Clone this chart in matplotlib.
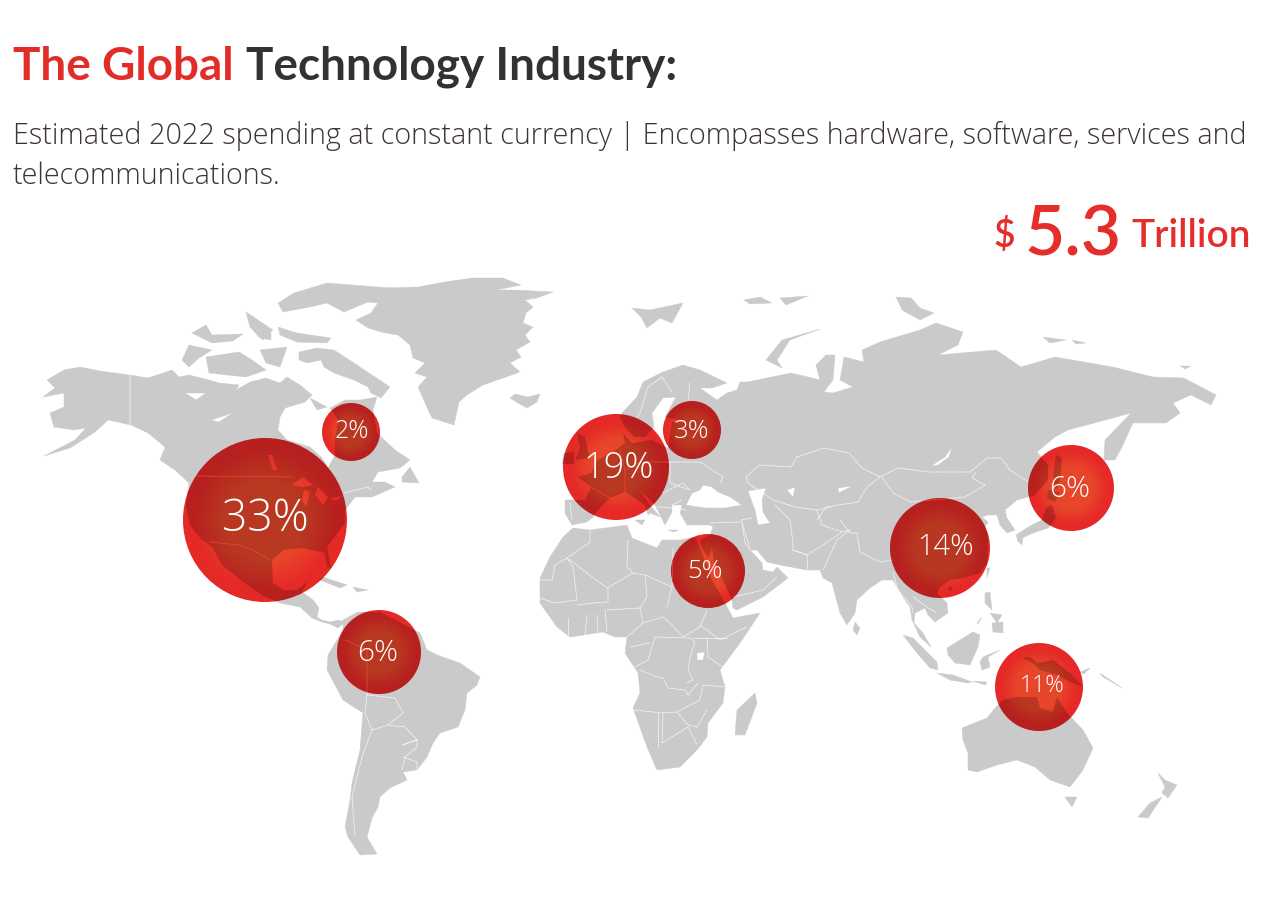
import numpy as np
import matplotlib
matplotlib.use('Agg')
import matplotlib.pyplot as plt
from matplotlib.path import Path
from matplotlib.patches import PathPatch, Circle
from matplotlib.colors import LinearSegmentedColormap

# bubbles: regional share of spending
labels = ['33%', '2%', '19%', '3%', '6%', '14%', '5%', '6%', '11%']
bubble_x = [265, 351, 616, 692, 1071, 940, 708, 379, 1039]
bubble_y = [520, 432, 467, 430, 488, 548, 571, 652, 687]
bubble_r = [82, 29, 53, 29, 43, 50, 37, 42, 44]
label_x = [265, 352, 619, 692, 1070, 946, 705, 378, 1042]
label_y = [520, 432, 468, 431, 489, 547, 572, 653, 686]
label_size = [32, 18, 26, 18.5, 21.5, 21, 18.5, 21.5, 16.5]

# land outlines, in picture pixels
north_america = [(44,456),(70,448),(95,432),(108,420),(131,425),(148,433),(165,447),(160,460),(175,470),(189,483),
    (186,505),(190,525),(200,538),(213,548),(222,565),(238,578),(250,587),(265,597),(280,603),(300,607),(312,618),
    (322,622),(330,624),(338,628),(345,622),(338,620),(330,622),(322,620),(317,617),(319,608),(313,600),(302,592),
    (307,582),(297,590),(283,590),(273,583),(272,560),(283,550),(303,548),(325,553),(327,567),(331,568),(327,547),
    (345,523),(345,510),(355,497),(372,497),(395,487),(385,482),(372,482),(378,472),(400,468),(410,460),(395,450),
    (377,433),(373,410),(377,397),(360,400),(345,400),(330,408),(338,420),(335,440),(335,455),(328,468),(322,458),
    (310,447),(287,440),(278,430),(280,417),(285,408),(305,402),(312,395),(300,385),(287,377),(280,383),(266,378),
    (250,382),(236,390),(239,385),(219,383),(209,380),(189,375),(179,377),(172,370),(148,378),(130,375),(100,371),
    (80,367),(64,370),(47,380),(55,388),(43,397),(64,393),(64,407),(50,413),(54,427),(74,430),(86,428),(75,440)]
greenland = [(381,290),(388,288),(418,287),(445,282),(472,278),(503,278),(521,285),(496,290),(516,290),(553,292),
    (537,298),(525,300),(533,307),(526,313),(523,323),(533,327),(525,335),(530,342),(516,350),(521,357),(510,363),
    (520,372),(503,378),(483,385),(467,395),(459,402),(454,425),(432,418),(425,403),(418,387),(427,377),(415,373),
    (425,363),(413,358),(410,345),(398,335),(381,332),(368,328),(356,320),(371,313),(378,303),(368,302)]
iceland = [(515,394),(528,397),(540,394),(537,402),(527,408),(518,403),(510,398)]
baffin = [(299,352),(317,348),(334,350),(354,363),(375,377),(390,387),(381,398),(371,393),(368,387),(354,380),
    (334,373),(324,367),(321,360),(307,363),(299,360)]
ellesmere = [(294,293),(327,283),(391,288),(368,302),(344,312),(327,303),(310,307),(283,312),(278,303)]
arctic_a = [(278,327),(297,333),(331,338),(327,343),(297,342),(280,335)]
arctic_b = [(246,312),(273,330),(263,340),(250,327)]
arctic_c = [(192,333),(206,325),(212,335),(243,334),(233,341),(212,343)]
arctic_d = [(253,330),(271,333),(271,340),(260,338)]
banks = [(182,360),(189,345),(212,350),(199,358),(189,367)]
victoria = [(206,357),(239,352),(252,360),(266,370),(246,377),(209,373)]
somerset = [(260,350),(287,347),(280,367),(266,363)]
southampton = [(310,398),(327,407),(317,410)]
newfoundland = [(402,477),(410,467),(419,483),(402,482)]
cuba = [(323,577),(347,585),(340,588),(320,580)]
hispaniola = [(353,587),(368,590),(357,592)]

south_america = [(343,620),(358,612),(380,612),(420,633),(427,650),(437,655),(460,663),(480,677),(477,685),(467,693),
    (465,710),(458,727),(440,733),(433,743),(427,757),(417,770),(403,772),(407,780),(390,788),(380,797),(378,807),
    (372,818),(367,837),(377,854),(360,855),(348,837),(345,827),(350,800),(352,783),(360,750),(363,713),(343,700),
    (327,670),(328,655),(343,630)]

africa = [(573,528),(590,530),(627,525),(632,538),(657,548),(662,540),(680,540),(695,537),(700,548),(703,555),(712,580),
    (725,603),(733,618),(760,613),(740,643),(720,670),(725,687),(723,703),(708,723),(707,737),(697,750),(680,767),
    (657,770),(647,747),(633,708),(640,693),(638,673),(625,653),(627,637),(615,637),(603,632),(570,637),(557,627),
    (540,603),(540,578),(550,557),(563,537)]
madagascar = [(755,693),(757,703),(745,735),(735,735),(737,710)]

eurasia = [(637,397),(643,382),(663,372),(683,365),(700,370),(727,383),(712,388),(700,388),(717,400),(727,393),
    (737,390),(740,382),(747,382),(791,373),(808,377),(820,380),(816,365),(826,355),(835,355),(833,380),(824,392),
    (833,393),(853,387),(840,380),(844,357),(864,362),(862,350),(880,342),(920,330),(936,323),(963,332),(958,345),
    (938,355),(996,350),(1021,367),(1055,357),(1113,367),(1153,377),(1184,378),(1216,395),(1211,405),(1191,395),
    (1173,403),(1180,413),(1166,423),(1133,423),(1122,447),(1115,460),(1104,460),(1105,440),(1131,413),(1113,418),
    (1068,430),(1055,437),(1037,452),(1048,465),(1048,480),(1035,495),(1028,497),(1017,500),(1005,510),(1007,518),
    (1015,530),(1007,533),(1000,525),(997,515),(988,515),(982,517),(988,522),(985,527),(988,535),(988,550),(987,563),
    (980,573),(963,578),(950,580),(940,587),(937,593),(947,603),(948,613),(935,622),(928,615),(925,608),(915,613),
    (914,623),(923,633),(931,647),(920,637),(912,620),(910,607),(903,597),(893,580),(882,580),(870,588),(857,600),
    (855,613),(847,625),(840,613),(832,583),(823,578),(820,570),(807,570),(780,565),(767,562),(757,550),(750,550),
    (762,563),(763,570),(773,572),(777,567),(788,578),(763,597),(737,610),(733,608),(732,600),(725,585),(714,560),
    (712,548),(708,558),(702,548),(700,540),(710,535),(713,527),(710,525),(687,525),(680,513),(682,505),(672,505),
    (672,512),(665,525),(660,515),(655,505),(640,490),(650,505),(660,517),(650,513),(648,515),(645,505),(630,495),
    (625,492),(610,498),(598,510),(593,517),(587,522),(572,525),(565,513),(565,500),(585,500),(591,487),(578,477),
    (591,473),(598,460),(616,450),(625,443),(623,433),(632,443),(652,440),(668,448),(670,437),(672,422),(688,422),
    (665,417),(676,397),(663,398),(652,413),(654,427),(645,437),(634,437),(625,427),(620,417),(622,413)]
britain = [(577,433),(585,437),(588,452),(590,458),(575,460),(580,448)]
ireland = [(564,453),(574,452),(574,464),(562,464)]
sicily = [(635,520),(645,520),(642,525)]
crete = [(668,530),(678,530),(674,532)]
svalbard = [(632,308),(650,310),(683,303),(672,323),(660,318),(647,328),(641,317)]
franz_josef = [(744,300),(760,297),(772,303),(750,304)]
franz_josef_b = [(780,298),(808,296),(786,305)]
novaya_zemlya = [(766,360),(782,340),(820,329),(790,340),(777,360),(782,368)]
severnaya = [(896,297),(911,298),(920,308),(934,313),(920,320),(902,310)]
new_siberian = [(1043,337),(1066,340),(1050,343)]
new_siberian_b = [(1072,340),(1086,343),(1076,344)]
wrangel = [(1180,366),(1191,366),(1185,369)]
sri_lanka = [(855,622),(860,628),(857,635),(853,630)]
sakhalin = [(1056,455),(1062,458),(1060,480),(1056,490),(1053,478)]
hokkaido = [(1048,490),(1060,492),(1055,502),(1047,498)]
honshu = [(1052,505),(1056,518),(1048,528),(1033,533),(1018,540),(1016,535),(1030,526),(1042,520),(1046,508)]
kyushu = [(1017,540),(1023,538),(1022,545)]
taiwan = [(987,568),(990,568),(987,578)]
hainan = [(948,587),(953,587),(950,592)]
sumatra = [(903,635),(913,638),(937,662),(938,670),(930,668),(917,653)]
java = [(937,673),(953,675),(972,682),(968,683),(950,680)]
sundas = [(972,681),(987,682),(985,685)]
borneo = [(947,648),(973,632),(980,635),(978,647),(970,665),(955,663),(948,655)]
sulawesi = [(983,657),(1000,650),(988,657),(990,667),(982,670),(980,662)]
luzon = [(985,593),(990,592),(992,610),(985,603)]
mindanao = [(992,623),(1003,622),(1003,633),(993,632)]
visayas = [(990,613),(1002,615),(997,623)]
palawan = [(977,623),(982,617),(978,624)]
new_guinea = [(1022,658),(1030,657),(1037,663),(1053,660),(1070,673),(1083,687),(1070,682),(1057,675),(1040,670),(1033,663)]
solomon = [(1080,672),(1090,668),(1084,674)]
vanuatu = [(1100,673),(1122,688),(1103,677)]
australia = [(962,728),(987,718),(995,708),(1003,700),(1017,697),(1037,697),(1040,708),(1053,712),(1057,697),(1067,713),
    (1083,730),(1093,748),(1083,770),(1070,787),(1050,780),(1035,767),(1017,760),(997,765),(977,772),(968,770),
    (968,753),(963,740)]
tasmania = [(1065,797),(1077,797),(1072,807)]
nz_north = [(1158,773),(1165,780),(1177,785),(1168,798),(1162,793),(1165,787)]
nz_south = [(1162,797),(1148,818),(1138,817),(1150,803)]

land = [north_america, greenland, iceland, baffin, ellesmere, arctic_a, arctic_b, arctic_c, arctic_d, banks, victoria,
    somerset, southampton, newfoundland, cuba, hispaniola, south_america, africa, madagascar, eurasia, britain, ireland,
    sicily, crete, svalbard, franz_josef, franz_josef_b, novaya_zemlya, severnaya, new_siberian, new_siberian_b, wrangel,
    sri_lanka, sakhalin, hokkaido, honshu, kyushu, taiwan, hainan, sumatra, java, sundas, borneo, sulawesi, luzon,
    mindanao, visayas, palawan, new_guinea, solomon, vanuatu, australia, tasmania, nz_north, nz_south]

# inland water
lakes = [[(686,505),(692,493),(700,490),(703,485),(712,487),(718,492),(730,497),(742,505),(725,508),(705,508)],
    [(748,491),(766,488),(762,500),(763,512),(770,523),(758,525),(755,510)],
    [(787,490),(795,487),(793,497)],
    [(838,488),(853,486),(842,491),(839,493)],
    [(931,466),(945,457),(952,447),(949,457),(938,465)],
    [(697,653),(705,652),(703,660),(697,660)],
    [(185,393),(206,393),(196,400)],
    [(211,420),(233,413),(219,422)],
    [(268,455),(272,455),(277,470),(273,470)],
    [(292,485),(303,477),(313,485),(303,487)],
    [(304,490),(310,492),(306,507),(302,500)],
    [(318,487),(328,497),(323,505),(315,495)],
    [(330,498),(343,496),(335,501)]]

# country borders
borders = [[(567,558),(607,588),(633,573),(645,575),(672,587)],
    [(628,540),(627,567),(633,573)],
    [(645,575),(647,597),(640,608),(643,623)],
    [(673,548),(672,587),(667,607)],
    [(608,588),(608,602),(593,603),(577,605)],
    [(540,580),(552,580),(555,565),(567,558)],
    [(567,558),(573,567),(577,600),(555,603),(540,598)],
    [(590,530),(590,542),(567,558)],
    [(568,618),(568,635)],[(587,615),(585,635)],[(597,615),(598,633)],[(605,610),(607,632)],
    [(607,610),(640,608)],
    [(643,623),(663,617),(670,623),(683,637),(700,627),(707,610)],
    [(640,670),(657,677),(663,678),(668,688),(685,690),(688,695),(698,683)],
    [(655,637),(648,660),(635,667)],
    [(655,637),(690,638),(695,642),(690,657),(688,670),(693,680),(687,683)],
    [(633,710),(663,713),(677,712),(688,725),(697,727),(707,710)],
    [(658,713),(658,747)],
    [(663,713),(662,743),(688,727)],
    [(707,638),(708,657),(723,667)],
    [(703,685),(725,687)],
    [(700,625),(720,640),(747,627)],
    [(693,638),(727,638)],
    [(630,647),(650,643)],
    [(627,637),(643,623)],
    [(677,712),(700,700),(703,685)],
    [(688,727),(697,745)],
    [(367,695),(365,713),(372,730),(388,725),(405,727),(417,740),(402,745)],
    [(367,695),(395,698),(403,713),(388,725)],
    [(372,730),(362,757),(352,797),(355,837)],
    [(403,757),(417,762),(417,770)],
    [(402,745),(417,740),(417,747),(405,757),(402,770)],
    [(345,640),(367,650),(367,695)],
    [(130,375),(130,425),(165,450)],
    [(195,476),(293,477)],
    [(344,493),(368,487),(371,490)],
    [(210,542),(240,545),(253,550),(270,560)],
    [(746,477),(759,465),(791,467),(797,457),(824,448),(849,453),(862,468),(880,477)],
    [(880,477),(898,468),(929,472),(970,472),(987,458),(1001,458),(1010,470),(1028,482)],
    [(882,477),(893,493),(911,502),(965,497),(985,485),(972,478),(976,472)],
    [(880,477),(867,487),(858,502),(826,507),(817,520)],
    [(746,477),(748,483),(773,500),(795,507),(817,510),(831,507)],
    [(741,520),(750,548)],
    [(790,520),(793,543),(793,550),(807,555),(808,570)],
    [(793,550),(807,555),(823,545),(842,532),(850,530)],
    [(850,530),(837,540),(823,570)],
    [(742,522),(745,543),(750,550)],
    [(733,597),(763,590),(777,577)],
    [(710,523),(740,522)],
    [(840,520),(850,533),(857,533),(860,552),(880,562),(893,560)],
    [(893,572),(898,590),(912,607),(913,613)],
    [(913,597),(927,607),(937,613)],
    [(670,462),(700,462),(723,477),(720,483)],
    [(670,462),(670,483),(690,490)],
    [(690,383),(688,400)],
    [(648,387),(640,413),(637,417)],
    [(662,377),(672,392)],
    [(662,377),(648,387)],
    [(663,493),(683,483),(690,490)],
    [(650,507),(663,507),(687,510)],
    [(570,503),(572,520)],
    [(591,487),(610,498)],
    [(625,470),(640,462),(670,462)],
    [(620,450),(625,470),(625,492)],
    [(672,505),(682,500)],
    [(741,520),(752,518)],
    [(775,505),(790,520)],
    [(817,510),(822,525),(842,532)]]


def signed_area(pts):
    p = np.array(pts, dtype=float)
    return 0.5 * np.sum(p[:, 0] * np.roll(p[:, 1], -1) - np.roll(p[:, 0], -1) * p[:, 1])


def make_path(polys, holes):
    verts = []
    codes = []
    for pts, is_hole in [(q, False) for q in polys] + [(q, True) for q in holes]:
        pts = list(pts)
        if (signed_area(pts) > 0) == is_hole:
            pts = pts[::-1]
        verts += pts + [pts[0]]
        codes += [Path.MOVETO] + [Path.LINETO] * (len(pts) - 1) + [Path.CLOSEPOLY]
    return Path(verts, codes)


plt.rcParams['font.family'] = ['Open Sans', 'DejaVu Sans']
lato = ['Lato', 'DejaVu Sans']

fig = plt.figure(figsize=(12.8, 9), dpi=100)
ax = fig.add_axes([0, 0, 1, 1])
ax.axis('off')

land_path = make_path(land, lakes)
ax.add_patch(PathPatch(land_path, fc='#cacaca', ec='#cacaca', lw=0.3, zorder=1))
for b in borders:
    xs, ys = zip(*b)
    ax.plot(xs, ys, color='white', lw=0.6, alpha=0.9, ls=(0, (2, 0.6)), zorder=2)

glow = LinearSegmentedColormap.from_list('glow', [(0, '#e8462b'), (0.5, '#e8462b'), (0.85, '#e52a27'), (1, '#e52927')])
gx, gy = np.meshgrid(np.linspace(-1, 1, 300), np.linspace(-1, 1, 300))
gradient = np.clip(np.hypot(gx, gy), 0, 1)

for i in range(len(labels)):
    x, y, r = bubble_x[i], bubble_y[i], bubble_r[i]
    circle = Circle((x, y), r, transform=ax.transData, fc='none', ec='none')
    ax.add_patch(circle)
    im = ax.imshow(gradient, cmap=glow, vmin=0, vmax=1, extent=[x - r, x + r, y + r, y - r],
                   interpolation='bilinear', aspect='auto', zorder=3)
    im.set_clip_path(circle)
    shade = PathPatch(land_path, fc='black', ec='none', alpha=0.2, zorder=4)
    ax.add_patch(shade)
    shade.set_clip_path(circle)
    for b in borders:
        xs, ys = zip(*b)
        line = ax.plot(xs, ys, color='#ee4a3a', lw=0.6, alpha=0.8, zorder=4)[0]
        line.set_clip_path(circle)
    ax.text(label_x[i], label_y[i], labels[i], color='white', fontsize=label_size[i], fontweight='light',
            ha='center', va='center', zorder=5)

ax.set_xlim(0, 1280)
ax.set_ylim(900, 0)

# heading
ax.text(13, 80, 'The Global', color='#e32b28', family=lato, fontsize=33, fontweight='bold', ha='left', va='baseline')
ax.text(246, 80, 'Technology Industry:', color='#333132', family=lato, fontsize=33, fontweight='bold', ha='left', va='baseline')
ax.text(13, 144, 'Estimated 2022 spending at constant currency | Encompasses hardware, software, services and',
        color='#3c3334', fontsize=20.7, fontweight='light', ha='left', va='baseline')
ax.text(13, 184, 'telecommunications.', color='#3c3334', fontsize=20.7, fontweight='light', ha='left', va='baseline')
ax.text(994, 247, '$', color='#e52d2b', family=lato, fontsize=27, fontweight='semibold', ha='left', va='baseline')
ax.text(1025, 256, '5.3', color='#e52d2b', family=lato, fontsize=50, fontweight='semibold', ha='left', va='baseline')
ax.text(1131, 247, 'Trillion', color='#e52d2b', family=lato, fontsize=28, fontweight='semibold', ha='left', va='baseline')

fig.savefig('out.png', dpi=100, facecolor='white')
